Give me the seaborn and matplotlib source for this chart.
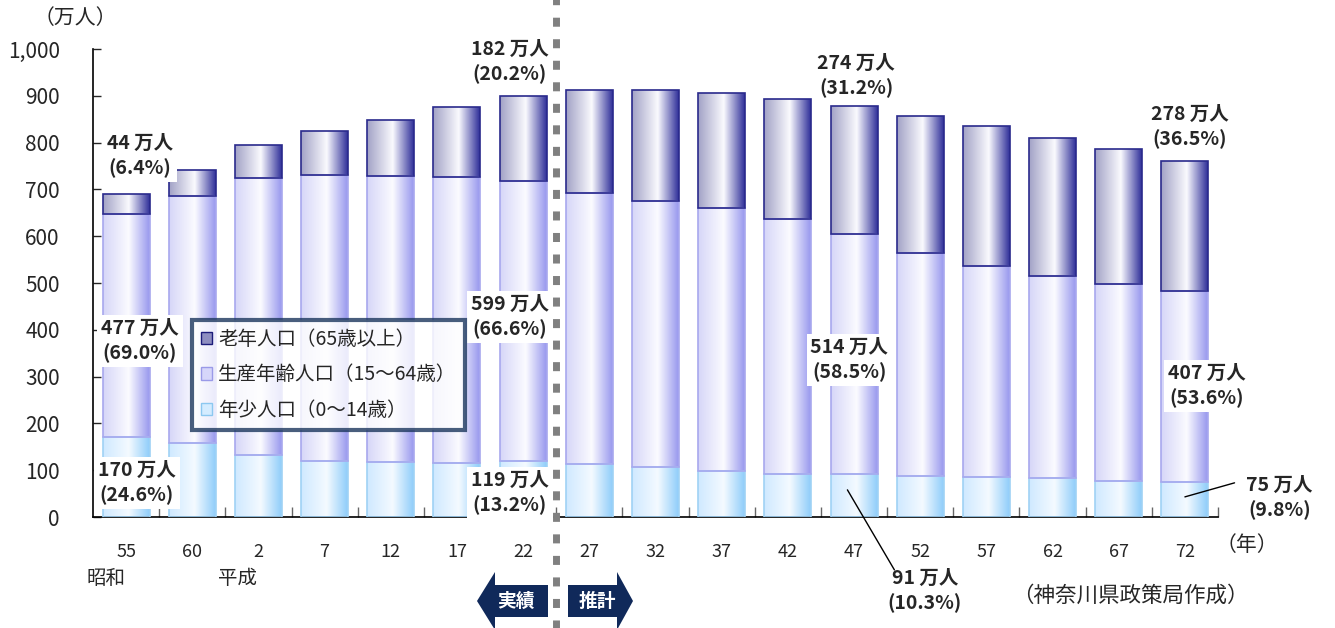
import numpy as np
import pandas as pd
import matplotlib
matplotlib.use("Agg")
import matplotlib.pyplot as plt
import seaborn as sns
from matplotlib.patches import Patch, Polygon
from matplotlib.colors import to_rgb

# Kanagawa population by age group (10k people)
years = ["55", "60", "2", "7", "12", "17", "22", "27", "32", "37", "42",
         "47", "52", "57", "62", "67", "72"]
young = [170, 158, 132, 120, 118, 115, 119, 113, 107, 98, 92, 91, 88, 85, 83, 77, 75]
working = [477, 528, 592, 611, 611, 611, 599, 579, 568, 562, 545, 514, 476, 451, 432, 421, 407]
elderly = [44, 55, 71, 94, 119, 150, 182, 220, 237, 246, 256, 274, 293, 299, 295, 288, 278]

# labelled values: (group, year, percentage text)
callouts = [
    ("elderly", "55", "6.4%"), ("working", "55", "69.0%"), ("young", "55", "24.6%"),
    ("elderly", "22", "20.2%"), ("working", "22", "66.6%"), ("young", "22", "13.2%"),
    ("elderly", "47", "31.2%"), ("working", "47", "58.5%"), ("young", "47", "10.3%"),
    ("elderly", "72", "36.5%"), ("working", "72", "53.6%"), ("young", "72", "9.8%"),
]

sns.set_style("white")
plt.rcParams["font.family"] = ["Noto Sans CJK JP", "DejaVu Sans"]

W, H = 1335, 628
fig = plt.figure(figsize=(W / 100, H / 100), dpi=100)
ax = fig.add_axes([93 / W, 1 - 517 / H, 1125 / W, 468 / H])

df = pd.DataFrame({"year": years, "young": young, "working": working, "elderly": elderly})
df["base_working"] = df["young"]
df["base_elderly"] = df["young"] + df["working"]

groups = {
    "young": dict(bottom=None, edge="#9fd2f5",
                  stops=[(0.0, "#cfe9ff"), (0.55, "#f4faff"), (1.0, "#8fcdfa")], z=3.0),
    "working": dict(bottom="base_working", edge="#a8a8ee",
                    stops=[(0.0, "#d6d6f8"), (0.55, "#fbfbff"), (1.0, "#9898ee")], z=3.1),
    "elderly": dict(bottom="base_elderly", edge="#2a2a8c",
                    stops=[(0.0, "#a2a2c6"), (0.55, "#fafafe"), (1.0, "#30309a")], z=3.2),
}

for name, g in groups.items():
    n_before = len(ax.patches)
    kw = {}
    if g["bottom"] is not None:
        kw["bottom"] = df[g["bottom"]].to_numpy()
    sns.barplot(data=df, x="year", y=name, order=years, color="white",
                width=0.71, ax=ax, **kw)
    patches = ax.patches[n_before:]
    # cylinder-like horizontal shading, clipped to each bar
    pos = [s[0] for s in g["stops"]]
    cols = np.array([to_rgb(s[1]) for s in g["stops"]])
    t = np.linspace(0, 1, 128)
    grad = np.stack([np.interp(t, pos, cols[:, k]) for k in range(3)], axis=-1)[None, :, :]
    for p in patches:
        p.set_facecolor("none")
        p.set_edgecolor(g["edge"])
        p.set_linewidth(1.2)
        p.set_zorder(g["z"] + 1)
        x0, y0 = p.get_x(), p.get_y()
        im = ax.imshow(grad, extent=[x0, x0 + p.get_width(), y0, y0 + p.get_height()],
                       aspect="auto", interpolation="bilinear", zorder=2)
        im.set_clip_path(p)

ax.set_xlim(-0.5, len(years) - 0.5)
ax.set_ylim(0, 1000)
ax.set_xlabel("")
ax.set_ylabel("")

# axes styling
for s in ["top", "right"]:
    ax.spines[s].set_visible(False)
for s in ["left", "bottom"]:
    ax.spines[s].set_color("black")
    ax.spines[s].set_linewidth(1.2)
ax.set_yticks(np.arange(0, 1001, 100))
ax.set_yticklabels([f"{v:,}" for v in range(0, 1001, 100)], fontsize=15)
ax.tick_params(axis="y", direction="in", length=6, width=1, pad=24, left=True)
ax.set_xticks(range(len(years)))
ax.set_xticklabels(years, fontsize=13)
ax.set_xticks(np.arange(-0.5, len(years), 1.0)[1:], minor=True)
ax.tick_params(axis="x", which="major", length=0, pad=19, bottom=False)
ax.tick_params(axis="x", which="minor", direction="in", length=7, width=1, color="#666666", bottom=True)

# value callouts
vals = {"young": dict(zip(years, young)), "working": dict(zip(years, working)),
        "elderly": dict(zip(years, elderly))}
label_pos = {
    ("elderly", "55"): (0.21, 771), ("working", "55"): (0.21, 376), ("young", "55"): (0.16, 73),
    ("elderly", "22"): (5.80, 972), ("working", "22"): (5.80, 427), ("young", "22"): (5.80, 51),
    ("elderly", "47"): (11.03, 942), ("working", "47"): (10.93, 335), ("young", "47"): (12.07, -158),
    ("elderly", "72"): (16.07, 833), ("working", "72"): (16.33, 280), ("young", "72"): (17.43, 41),
}
for grp, yr, pct in callouts:
    x, y = label_pos[(grp, yr)]
    ax.text(x, y, f"{vals[grp][yr]} 万人\n({pct})", ha="center", va="center",
            fontsize=14, fontweight="bold", linespacing=1.35, clip_on=False, zorder=8,
            bbox=dict(boxstyle="square,pad=0.2", facecolor="white", edgecolor="none"))

# leader lines for the small youth segments
ax.plot([10.90, 11.61], [58, -113], color="black", lw=1, clip_on=False, zorder=9)
ax.plot([16.0, 16.75], [43, 73], color="black", lw=1, clip_on=False, zorder=9)

# boundary between recorded and projected values
ax.axvline(6.5, ymin=-0.24, ymax=1.11, color="#808080", lw=5, clip_on=False,
           dashes=(1.3, 1.8), dash_capstyle="butt", zorder=6)

# legend
handles = [
    Patch(facecolor="#8e8ec0", edgecolor="#1c1c7a", label="老年人口（65歳以上）"),
    Patch(facecolor="#d6d6fa", edgecolor="#9a9ae8", label="生産年齢人口（15～64歳）"),
    Patch(facecolor="#d4ecff", edgecolor="#8cc8f0", label="年少人口（0～14歳）"),
]
leg = fig.legend(handles=handles, loc="upper left", bbox_to_anchor=(192 / W, 1 - 320 / H),
                 fontsize=14, frameon=True, fancybox=False, handlelength=0.6,
                 handleheight=0.6, handletextpad=0.3, labelspacing=0.75,
                 borderpad=0.45, borderaxespad=0)
leg.get_frame().set_edgecolor("#1b365d")
leg.get_frame().set_linewidth(3)
leg.set_zorder(10)

# free-standing texts
def fx(px):
    return px / W

def fy(py):
    return 1 - py / H

fig.text(fx(75), fy(18), "（万人）", ha="center", va="center", fontsize=15)
fig.text(fx(1247), fy(545), "（年）", ha="center", va="center", fontsize=15)
fig.text(fx(1130), fy(596), "（神奈川県政策局作成）", ha="center", va="center", fontsize=15.5)
fig.text(fx(106), fy(578), "昭和", ha="center", va="center", fontsize=14)
fig.text(fx(237), fy(578), "平成", ha="center", va="center", fontsize=14)

# recorded / projected arrows
navy = "#10295a"
left_arrow = [(477, 601), (495, 572), (495, 585), (548, 585), (548, 617),
              (495, 617), (495, 630), (477, 601)]
right_arrow = [(633, 601), (617, 572), (617, 585), (568, 585), (568, 617),
               (617, 617), (617, 630), (633, 601)]
for pts in (left_arrow, right_arrow):
    fig.patches.append(Polygon([(fx(a), fy(b)) for a, b in pts], closed=True,
                               transform=fig.transFigure, facecolor=navy,
                               edgecolor="none", zorder=5))
fig.text(fx(516), fy(601), "実績", ha="center", va="center", fontsize=13.5,
         fontweight="bold", color="white", zorder=6)
fig.text(fx(597), fy(601), "推計", ha="center", va="center", fontsize=13.5,
         fontweight="bold", color="white", zorder=6)

fig.savefig("out.png", dpi=100, facecolor="white")
